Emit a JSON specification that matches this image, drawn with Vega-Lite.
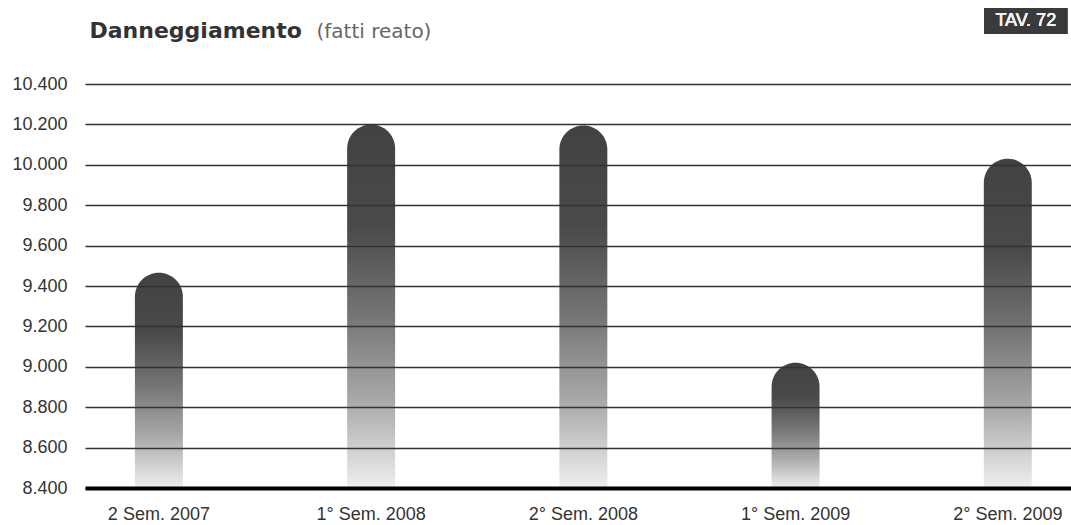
{
  "$schema": "https://vega.github.io/schema/vega-lite/v6.json",
  "width": 986,
  "height": 404,
  "autosize": {"type": "none"},
  "padding": {"left": 85, "top": 84, "right": 0, "bottom": 37},
  "background": "#ffffff",
  "config": {"view": {"stroke": null}},
  "data": {"values": [
    {"periodo": "2 Sem. 2007", "fatti": 9465},
    {"periodo": "1° Sem. 2008", "fatti": 10200},
    {"periodo": "2° Sem. 2008", "fatti": 10195},
    {"periodo": "1° Sem. 2009", "fatti": 9020},
    {"periodo": "2° Sem. 2009", "fatti": 10030}
  ]},
  "layer": [
    {
      "mark": {
        "type": "bar",
        "cornerRadiusTopLeft": 24,
        "cornerRadiusTopRight": 24,
        "color": {
          "gradient": "linear",
          "x1": 0, "y1": 0, "x2": 0, "y2": 1,
          "stops": [
            {"offset": 0, "color": "#424242"},
            {"offset": 0.28, "color": "#4a4a4a"},
            {"offset": 0.52, "color": "#747474"},
            {"offset": 0.76, "color": "#a9a9a9"},
            {"offset": 1, "color": "#efefef"}
          ]
        }
      },
      "encoding": {
        "x": {
          "field": "periodo", "type": "nominal",
          "scale": {
            "domain": ["2 Sem. 2007", "1° Sem. 2008", "2° Sem. 2008", "1° Sem. 2009", "2° Sem. 2009"],
            "paddingInner": 0.774, "paddingOuter": 0.21, "align": 0.56
          },
          "axis": {
            "orient": "bottom",
            "labelAngle": 0,
            "labelFont": "Liberation Sans",
            "labelFontSize": 18,
            "labelColor": "#333333",
            "labelPadding": 17,
            "ticks": false,
            "domain": true,
            "domainColor": "#000000",
            "domainWidth": 4,
            "zindex": 1,
            "title": "(fatti reato)",
            "titleFont": "DejaVu Sans",
            "titleFontSize": 20,
            "titleFontWeight": "normal",
            "titleColor": "#666666",
            "titleAlign": "left",
            "titleBaseline": "alphabetic",
            "titleAngle": 0,
            "titleX": 231,
            "titleY": -451
          }
        },
        "y": {
          "field": "fatti", "type": "quantitative",
          "scale": {"domain": [8400, 10400], "zero": false, "nice": false},
          "axis": {
            "values": [8400, 8600, 8800, 9000, 9200, 9400, 9600, 9800, 10000, 10200, 10400],
            "labelExpr": "replace(format(datum.value, ','), ',', '.')",
            "labelFont": "Liberation Sans",
            "labelFontSize": 18,
            "labelColor": "#333333",
            "labelPadding": 18,
            "ticks": false,
            "domain": false,
            "grid": true,
            "gridColor": "#333333",
            "gridWidth": 1.3,
            "zindex": 1,
            "title": "Danneggiamento",
            "titleFont": "DejaVu Sans",
            "titleFontSize": 22,
            "titleFontWeight": "bold",
            "titleColor": "#333333",
            "titleAlign": "left",
            "titleBaseline": "alphabetic",
            "titleAngle": 0,
            "titleX": 4,
            "titleY": -47
          }
        },
        "y2": {"datum": 8400}
      }
    },
    {
      "mark": {"type": "bar", "color": "#3a3a3a", "width": 83, "xOffset": 18},
      "encoding": {
        "x": {"datum": "2° Sem. 2009", "type": "nominal"},
        "y": {"datum": 10776, "type": "quantitative"},
        "y2": {"datum": 10648}
      }
    },
    {
      "mark": {"type": "text", "color": "#f2f2f2", "font": "Liberation Sans", "fontSize": 18, "fontWeight": "normal", "baseline": "middle", "align": "center", "dx": 18},
      "encoding": {
        "x": {"datum": "2° Sem. 2009", "type": "nominal"},
        "y": {"datum": 10712, "type": "quantitative"},
        "text": {"value": "TAV. 72"}
      }
    }
  ]
}
